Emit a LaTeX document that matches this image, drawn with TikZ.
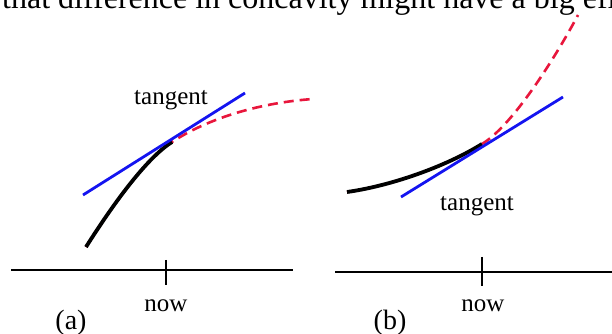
\documentclass[tikz,border=0pt]{standalone}
\usepackage{fontspec}
\setmainfont{Liberation Serif}
\definecolor{redc}{RGB}{232,22,60}
\definecolor{bluec}{RGB}{20,20,240}
\begin{document}
\begin{tikzpicture}[x=1pt,y=1pt,
  axis/.style={line width=1.3pt, black},
  curveblack/.style={line width=3.8pt, black},
  tanline/.style={line width=2.8pt, bluec},
  extrap/.style={line width=2.6pt, draw=redc, dash pattern=on 10pt off 6pt},
  lbl/.style={font=\fontsize{25}{30}\selectfont, inner sep=0pt},
  panellbl/.style={font=\fontsize{28}{33}\selectfont, inner sep=0pt}]
\useasboundingbox (0,0) rectangle (612,334);
\clip (0,0) rectangle (612,334);
\fill[white] (0,0) rectangle (612,334);
\node[anchor=base west, inner sep=0pt, font=\fontsize{32}{38}\selectfont] (hdr) at (2,325) {that difference in concavity might have a big effect};

% ---- panel (a)
\coordinate (a0) at (11,64);
\coordinate (a1) at (293,64);
\coordinate (an) at (166,64);
\draw[axis] (a0) -- (a1);
\draw[axis] ([yshift=10pt]an) -- ([yshift=-15pt]an);
\node[lbl, anchor=base] (anow) at (166,22) {now};
\node[panellbl, anchor=base] (alab) at (71,4) {(a)};
\coordinate (aS) at (86,87);
\coordinate (aT) at (172,192);
\coordinate (aE) at (313,235);
\draw[extrap] (aS) .. controls (110,125) and (145,175) .. (aT) .. controls (215,220) and (270,232) .. (aE);
\draw[curveblack] (aS) .. controls (110,125) and (145,175) .. (aT);
\coordinate (aB1) at (83,139);
\coordinate (aB2) at (245,241);
\draw[tanline] (aB1) -- (aB2);
\node[lbl, anchor=base] (atan) at (171,229) {tangent};

% ---- panel (b)
\coordinate (b0) at (335,62);
\coordinate (b1) at (612,62);
\coordinate (bn) at (482,62);
\draw[axis] (b0) -- (b1);
\draw[axis] ([yshift=15pt]bn) -- ([yshift=-14pt]bn);
\node[lbl, anchor=base] (bnow) at (483,22) {now};
\node[panellbl, anchor=base] (blab) at (390,4) {(b)};
\coordinate (bS) at (347,142);
\coordinate (bT) at (482,190);
\coordinate (bE) at (578,319);
\draw[extrap] (bS) .. controls (390,148) and (445,167) .. (bT) .. controls (515,210) and (560,285) .. (bE);
\draw[curveblack] (bS) .. controls (390,148) and (445,167) .. (bT);
\coordinate (bB1) at (401,137);
\coordinate (bB2) at (563,237);
\draw[tanline] (bB1) -- (bB2);
\node[lbl, anchor=base] (btan) at (477,123) {tangent};
\end{tikzpicture}
\end{document}
